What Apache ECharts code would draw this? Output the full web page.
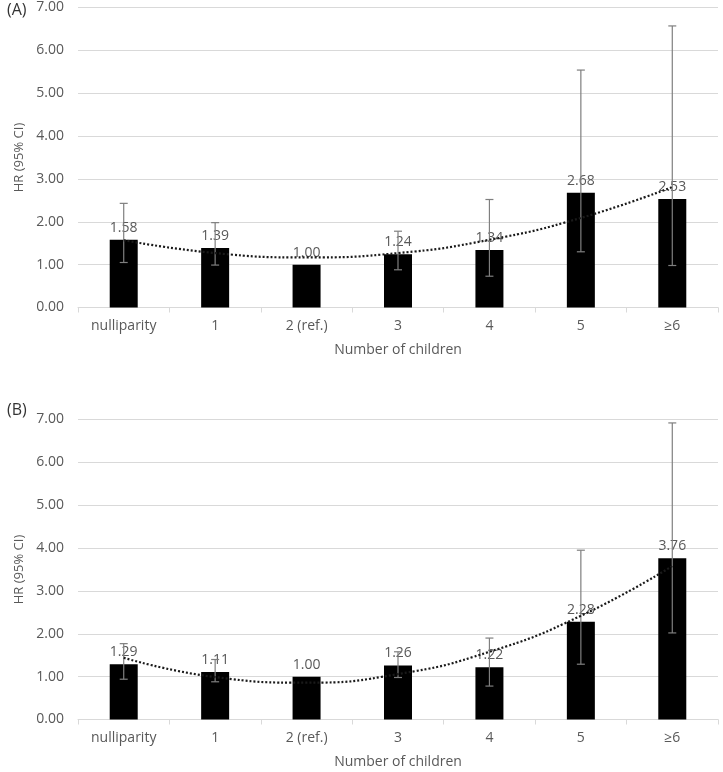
<!DOCTYPE html>
<html>
<head>
<meta charset="utf-8">
<script src="https://cdn.jsdelivr.net/npm/echarts@6/dist/echarts.min.js"></script>
<style>html,body{margin:0;padding:0;background:#fff}#c{width:723px;height:772px}</style>
</head>
<body>
<div id="c"></div>
<script>
const categories = ['nulliparity', '1', '2 (ref.)', '3', '4', '5', '≥6'];
const yTicks = [0, 1, 2, 3, 4, 5, 6, 7];

const hrA = [1.58, 1.39, 1.00, 1.24, 1.34, 2.68, 2.53];
const lowA = [1.05, 0.99, null, 0.88, 0.73, 1.30, 0.98];
const highA = [2.43, 1.98, null, 1.78, 2.52, 5.54, 6.57];
const trendA = [1.57, 1.27, 1.17, 1.27, 1.58, 2.09, 2.81];

const hrB = [1.29, 1.11, 1.00, 1.26, 1.22, 2.28, 3.76];
const lowB = [0.94, 0.88, null, 0.98, 0.78, 1.29, 2.02];
const highB = [1.77, 1.40, null, 1.58, 1.90, 3.95, 6.92];
const trendB = [1.44, 0.99, 0.86, 1.06, 1.58, 2.42, 3.58];

const txt = '#595959';
const font = 'Open Sans';

function errData(lo, hi) {
  const d = [];
  for (let i = 0; i < lo.length; i++) {
    if (lo[i] != null && hi[i] != null) d.push([i, lo[i], hi[i]]);
  }
  return d;
}
function errRender(params, api) {
  const x = api.value(0), lo = api.value(1), hi = api.value(2);
  const pl = api.coord([x, lo]);
  const ph = api.coord([x, hi]);
  const hw = 4;
  const st = { stroke: '#7f7f7f', lineWidth: 1.2 };
  return {
    type: 'group',
    children: [
      { type: 'line', shape: { x1: ph[0], y1: ph[1], x2: pl[0], y2: pl[1] }, style: st },
      { type: 'line', shape: { x1: ph[0] - hw, y1: ph[1], x2: ph[0] + hw, y2: ph[1] }, style: st },
      { type: 'line', shape: { x1: pl[0] - hw, y1: pl[1], x2: pl[0] + hw, y2: pl[1] }, style: st }
    ]
  };
}

function xAxis(gi) {
  return {
    type: 'category', gridIndex: gi, data: categories,
    name: 'Number of children', nameLocation: 'middle', nameGap: 36,
    nameTextStyle: { color: txt, fontFamily: font, fontSize: 14 },
    axisLine: { lineStyle: { color: '#d9d9d9', width: 1 } },
    axisTick: { show: true, length: 5, lineStyle: { color: '#d9d9d9' } },
    axisLabel: { color: txt, fontFamily: font, fontSize: 14, margin: 12 }
  };
}
function yAxis(gi) {
  return {
    type: 'value', gridIndex: gi, min: yTicks[0], max: yTicks[yTicks.length - 1], interval: 1,
    name: 'HR (95% CI)', nameLocation: 'middle', nameGap: 47,
    nameTextStyle: { color: txt, fontFamily: font, fontSize: 13 },
    axisLine: { show: false }, axisTick: { show: false },
    splitLine: { lineStyle: { color: '#d9d9d9', width: 1 } },
    axisLabel: { color: txt, fontFamily: font, fontSize: 14, margin: 14, formatter: v => v.toFixed(2) }
  };
}
function series(gi, hr, lo, hi, tr) {
  return [
    {
      type: 'bar', xAxisIndex: gi, yAxisIndex: gi, data: hr, barWidth: 28,
      itemStyle: { color: '#000' },
      label: { show: true, position: 'top', distance: 5, color: txt, fontFamily: font, fontSize: 14,
        formatter: p => p.value.toFixed(2) },
      z: 2
    },
    {
      type: 'custom', xAxisIndex: gi, yAxisIndex: gi, data: errData(lo, hi),
      renderItem: errRender, encode: { x: 0, y: [1, 2] }, z: 3, silent: true
    },
    {
      type: 'line', xAxisIndex: gi, yAxisIndex: gi, data: tr, smooth: true, symbol: 'none',
      lineStyle: { color: '#1a1a1a', width: 2.2, type: [2, 2] }, z: 4, silent: true
    }
  ];
}

const chart = echarts.init(document.getElementById('c'));
chart.setOption({
  animation: false,
  backgroundColor: '#fff',
  title: [
    { text: '(A)', left: 2, top: -3, textStyle: { color: '#333', fontFamily: font, fontSize: 16, fontWeight: 'normal' } },
    { text: '(B)', left: 2, top: 397, textStyle: { color: '#333', fontFamily: font, fontSize: 16, fontWeight: 'normal' } }
  ],
  grid: [
    { left: 78, right: 5, top: 7.5, height: 300 },
    { left: 78, right: 5, top: 419.5, height: 300 }
  ],
  xAxis: [xAxis(0), xAxis(1)],
  yAxis: [yAxis(0), yAxis(1)],
  series: [...series(0, hrA, lowA, highA, trendA), ...series(1, hrB, lowB, highB, trendB)]
});
</script>
</body>
</html>
